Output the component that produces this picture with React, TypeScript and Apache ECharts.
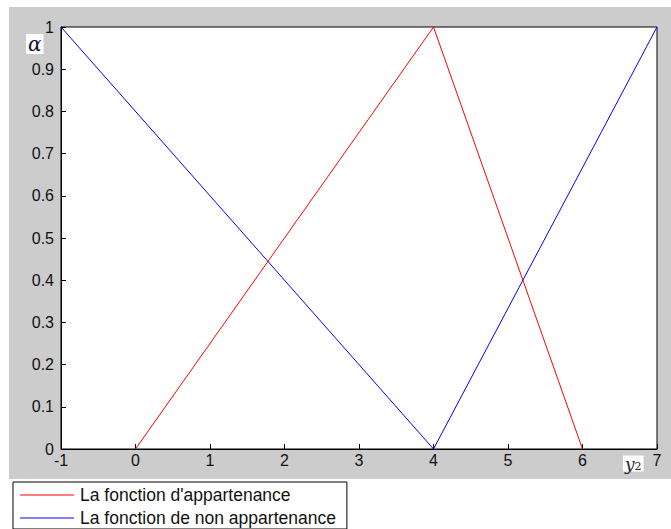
import React, { useEffect, useRef } from "react";
import * as echarts from "echarts";

const xMin = -1;
const xMax = 7;
const memberX = [0, 4, 6];
const memberY = [0, 1, 0];
const nonMemberX = [-1, 4, 7];
const nonMemberY = [1, 0, 1];
const seriesNames = ["La fonction d'appartenance", "La fonction de non appartenance"];

export default function App() {
  const ref = useRef<HTMLDivElement>(null);
  useEffect(() => {
    if (!ref.current) return;
    const chart = echarts.init(ref.current, undefined, { renderer: "svg" });
    const font = "'Liberation Sans', Arial, sans-serif";
    chart.setOption({
      animation: false,
      grid: {
        left: 61,
        top: 27,
        right: 14,
        bottom: 80,
        show: true,
        backgroundColor: "#ffffff",
        borderColor: "#000000",
        borderWidth: 1,
      },
      xAxis: {
        type: "value",
        min: xMin,
        max: xMax,
        interval: 1,
        splitLine: { show: false },
        axisLine: { show: true, onZero: false, lineStyle: { color: "#000", width: 1 } },
        axisTick: { show: true, inside: true, length: 5, lineStyle: { color: "#000" } },
        axisLabel: { color: "#111", fontSize: 16, fontFamily: font, margin: 3 },
      },
      yAxis: {
        type: "value",
        min: 0,
        max: 1,
        interval: 0.1,
        splitLine: { show: false },
        axisLine: { show: true, onZero: false, lineStyle: { color: "#000", width: 1 } },
        axisTick: { show: true, inside: true, length: 5, lineStyle: { color: "#000" } },
        axisLabel: { color: "#111", fontSize: 16, fontFamily: font, margin: 7 },
      },
      legend: {
        orient: "vertical",
        left: 13,
        top: 482,
        padding: [3, 11, 1, 7],
        itemWidth: 54,
        itemHeight: 1,
        itemGap: 3,
        icon: "rect",
        backgroundColor: "#ffffff",
        borderColor: "#000000",
        borderWidth: 1,
        borderRadius: 0,
        textStyle: { color: "#111", fontSize: 17.5, fontFamily: font, lineHeight: 20, padding: [0, 0, 0, 1] },
        data: seriesNames,
      },
      graphic: [
        {
          type: "text",
          left: 26,
          top: 34,
          z: 100,
          style: {
            text: "α",
            fill: "#111133",
            font: "italic 20px 'DejaVu Serif', serif",
            backgroundColor: "#ffffff",
            padding: [0, 2, 0, 2],
          },
        },
        {
          type: "text",
          left: 623,
          top: 455,
          z: 100,
          style: {
            text: "{a|y}{b|2}",
            backgroundColor: "#ffffff",
            padding: [0, 2, 0, 2],
            rich: {
              a: { font: "italic 17px 'DejaVu Serif', serif", fill: "#222", lineHeight: 16 },
              b: { font: "11px 'DejaVu Serif', serif", fill: "#222", verticalAlign: "bottom", padding: [4, 0, 0, 0] },
            },
          },
        },
      ],
      series: [
        {
          name: seriesNames[0],
          type: "line",
          symbol: "none",
          lineStyle: { color: "#ff0000", width: 1 },
          itemStyle: { color: "#ff0000" },
          data: memberX.map((x, i) => [x, memberY[i]]),
        },
        {
          name: seriesNames[1],
          type: "line",
          symbol: "none",
          lineStyle: { color: "#0000ff", width: 1 },
          itemStyle: { color: "#0000ff" },
          data: nonMemberX.map((x, i) => [x, nonMemberY[i]]),
        },
      ],
    });
    return () => chart.dispose();
  }, []);
  return (
    <div style={{ position: "absolute", left: 0, top: 0, width: 671, height: 529, background: "#ffffff" }}>
      <div style={{ position: "absolute", left: 9, top: 7, width: 662, height: 472, background: "#cccccc" }} />
      <div ref={ref} style={{ position: "absolute", left: 0, top: 0, width: 671, height: 529 }} />
    </div>
  );
}
